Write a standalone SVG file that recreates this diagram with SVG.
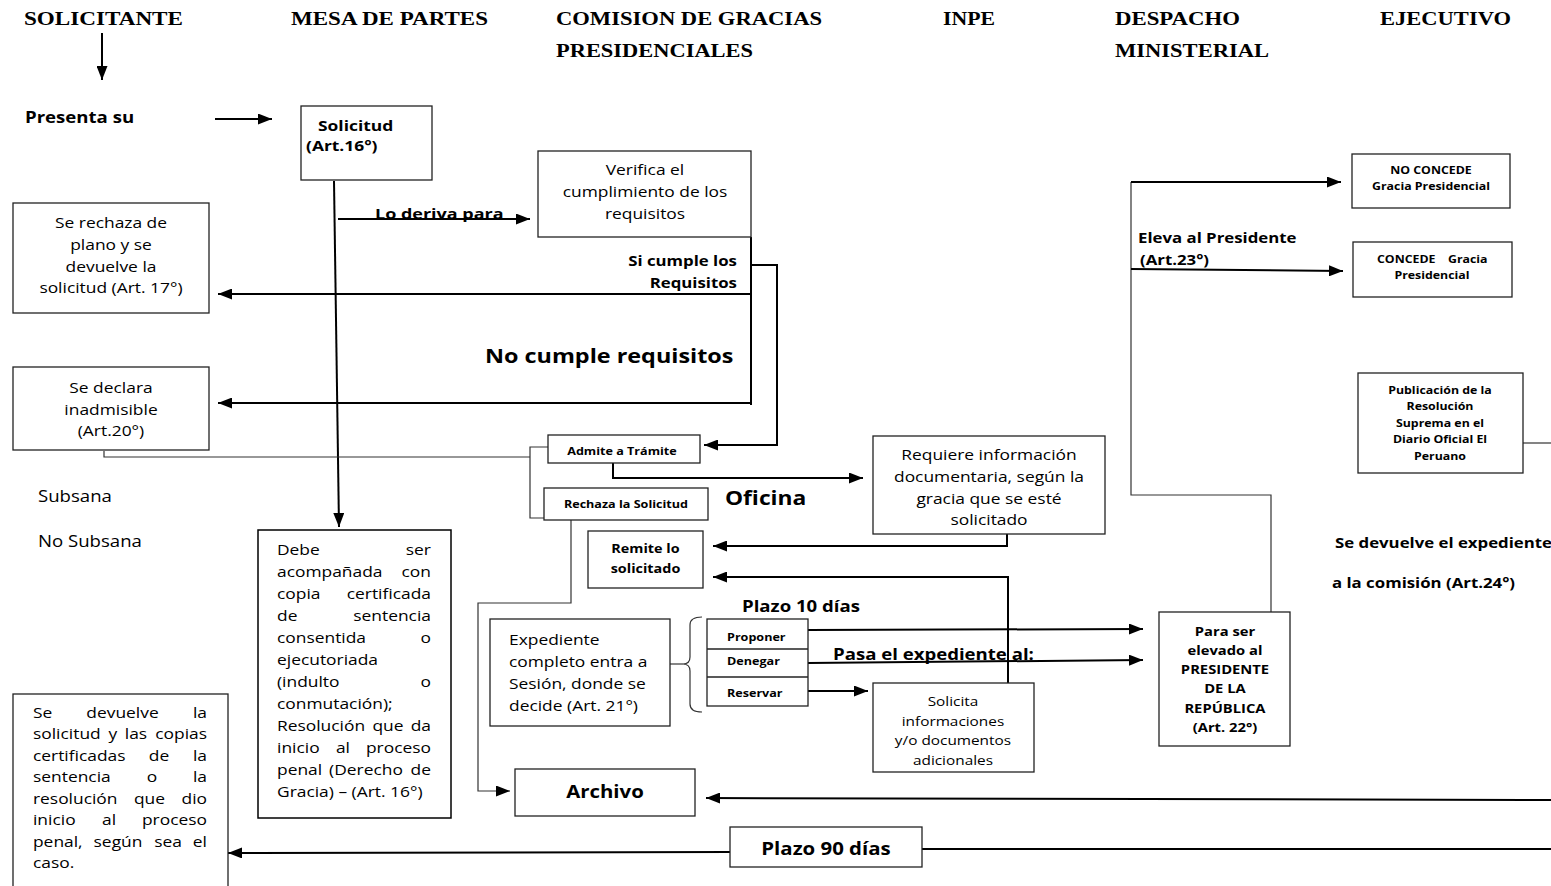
<svg xmlns="http://www.w3.org/2000/svg" width="1551" height="886" viewBox="0 0 1551 886">
<style>
.box{fill:#fff;stroke:#222;stroke-width:1.3}
.hd{font-family:"Liberation Serif","Times New Roman",serif;font-weight:bold;font-size:19px;fill:#000}
.t{font-family:"Open Sans","Liberation Sans",sans-serif;fill:#000;transform-box:fill-box;transform:scaleX(1.2)}
.b{font-weight:bold}
.s{transform-origin:left center}
.m{text-anchor:middle;transform-origin:center}
.e{text-anchor:end;transform-origin:right center}
.f145{font-size:14.5px}
.ln{fill:none;stroke:#000;stroke-width:2}
.thin{fill:none;stroke:#333;stroke-width:1.2}
</style>
<defs>
<marker id="ah" markerUnits="userSpaceOnUse" markerWidth="14" markerHeight="11" refX="14" refY="5.5" orient="auto">
<path d="M0,0 L14,5.5 L0,11 z" fill="#000"/>
</marker>
</defs>
<rect width="1551" height="886" fill="#fff"/>

<g id="headers">
<text class="hd" x="24" y="25" textLength="159" lengthAdjust="spacingAndGlyphs">SOLICITANTE</text>
<text class="hd" x="291" y="25" textLength="197" lengthAdjust="spacingAndGlyphs">MESA DE PARTES</text>
<text class="hd" x="556" y="25" textLength="266" lengthAdjust="spacingAndGlyphs">COMISION DE GRACIAS</text>
<text class="hd" x="556" y="57" textLength="197" lengthAdjust="spacingAndGlyphs">PRESIDENCIALES</text>
<text class="hd" x="943" y="25" textLength="52" lengthAdjust="spacingAndGlyphs">INPE</text>
<text class="hd" x="1115" y="25" textLength="125" lengthAdjust="spacingAndGlyphs">DESPACHO</text>
<text class="hd" x="1115" y="57" textLength="154" lengthAdjust="spacingAndGlyphs">MINISTERIAL</text>
<text class="hd" x="1380" y="25" textLength="131" lengthAdjust="spacingAndGlyphs">EJECUTIVO</text>
</g>

<g id="connectors">
<line class="ln" x1="102" y1="33" x2="102" y2="80" marker-end="url(#ah)"/>
<line class="ln" x1="215" y1="119" x2="272" y2="119" marker-end="url(#ah)"/>
<line class="ln" x1="334" y1="181" x2="339" y2="527" stroke-width="2.4" marker-end="url(#ah)"/>
<line class="ln" x1="338" y1="219" x2="530" y2="219" marker-end="url(#ah)"/>
<line class="ln" x1="751" y1="237" x2="751" y2="405" stroke-width="1.5"/>
<line class="ln" x1="751" y1="294" x2="218" y2="294" marker-end="url(#ah)"/>
<line class="ln" x1="751" y1="403" x2="218" y2="403" marker-end="url(#ah)"/>
<path class="ln" d="M751,265 H777 V445 H704" stroke-width="1.6" marker-end="url(#ah)"/>
<path class="thin" d="M104,451 V457 H530"/>
<path class="thin" d="M548,447 H530 V518 H546"/>
<path class="ln" d="M613,463 V478 H863" marker-end="url(#ah)"/>
<path class="thin" d="M571,520 V603 H478 V791 H510" stroke-width="1.5" marker-end="url(#ah)"/>
<path class="ln" d="M1007,534 V546 H713" marker-end="url(#ah)"/>
<path class="ln" d="M1008,683 V577 H713" stroke-width="1.6" marker-end="url(#ah)"/>
<line class="thin" x1="670" y1="664" x2="683" y2="664"/>
<path class="thin" d="M702,617 Q690,617 690,625 L690,657 Q690,664 683,664 Q690,664 690,671 L690,704 Q690,712 702,712"/>
<line class="ln" x1="808" y1="630" x2="1143" y2="629" marker-end="url(#ah)"/>
<line class="ln" x1="808" y1="663" x2="1143" y2="660" marker-end="url(#ah)"/>
<line class="ln" x1="808" y1="691" x2="868" y2="691" marker-end="url(#ah)"/>
<path class="thin" d="M1271,612 V495 H1131 V182"/>
<line class="ln" x1="1131" y1="182" x2="1341" y2="182" marker-end="url(#ah)"/>
<line class="ln" x1="1131" y1="269" x2="1343" y2="271" marker-end="url(#ah)"/>
<line class="thin" x1="1523" y1="443" x2="1551" y2="443"/>
<line class="ln" x1="1551" y1="800" x2="706" y2="798" marker-end="url(#ah)"/>
<line class="ln" x1="1551" y1="849" x2="922" y2="849"/>
<line class="ln" x1="730" y1="852" x2="228" y2="853" marker-end="url(#ah)"/>
</g>

<g id="presenta">
<text class="t b s" x="25" y="123" font-size="15.5">Presenta su</text>
</g>

<g id="solicitud">
<rect class="box" x="301" y="106" width="131" height="74"/>
<text class="t b s" x="318" y="131" font-size="14.5">Solicitud</text>
<text class="t b s" x="306" y="151" font-size="14.5">(Art.16°)</text>
</g>

<g id="lo-deriva">
<text class="t b s" x="375" y="219" font-size="15">Lo deriva para</text>
</g>

<g id="verifica">
<rect class="box" x="538" y="151" width="213" height="86"/>
<text class="t m f145" x="645" y="175">Verifica el</text>
<text class="t m f145" x="645" y="197">cumplimiento de los</text>
<text class="t m f145" x="645" y="219">requisitos</text>
</g>

<g id="si-cumple">
<text class="t b e" x="737" y="266" font-size="14">Si cumple los</text>
<text class="t b e" x="737" y="288" font-size="14">Requisitos</text>
</g>

<g id="no-cumple">
<text class="t b s" x="485" y="363" font-size="19.5">No cumple requisitos</text>
</g>

<g id="rechaza-plano">
<rect class="box" x="13" y="203" width="196" height="110"/>
<text class="t m f145" x="111" y="228">Se rechaza de</text>
<text class="t m f145" x="111" y="250">plano y se</text>
<text class="t m f145" x="111" y="272">devuelve la</text>
<text class="t m f145" x="111" y="293">solicitud (Art. 17°)</text>
</g>

<g id="inadmisible">
<rect class="box" x="13" y="367" width="196" height="83"/>
<text class="t m f145" x="111" y="393">Se declara</text>
<text class="t m f145" x="111" y="415">inadmisible</text>
<text class="t m f145" x="111" y="436">(Art.20°)</text>
</g>

<g id="subsana">
<text class="t s" x="38" y="502" font-size="15.5">Subsana</text>
<text class="t s" x="38" y="547" font-size="15.5">No Subsana</text>
</g>

<g id="admite">
<rect class="box" x="548" y="435" width="152" height="28"/>
<text class="t b m" x="622" y="455" font-size="10.5">Admite a Trámite</text>
</g>

<g id="rechaza-solicitud">
<rect class="box" x="544" y="488" width="164" height="32"/>
<text class="t b m" x="626" y="508" font-size="10.5">Rechaza la Solicitud</text>
</g>

<g id="oficina">
<text class="t b s" x="725" y="505" font-size="19">Oficina</text>
</g>

<g id="requiere">
<rect class="box" x="873" y="436" width="232" height="98"/>
<text class="t m f145" x="989" y="460">Requiere información</text>
<text class="t m f145" x="989" y="482">documentaria, según la</text>
<text class="t m f145" x="989" y="504">gracia que se esté</text>
<text class="t m f145" x="989" y="525">solicitado</text>
</g>

<g id="remite">
<rect class="box" x="588" y="531" width="115" height="57"/>
<text class="t b m" x="645.5" y="553" font-size="12">Remite lo</text>
<text class="t b m" x="645.5" y="573" font-size="12">solicitado</text>
</g>

<g id="debe-ser">
<rect class="box" x="258" y="530" width="193" height="288" style="stroke:#000;stroke-width:1.5"/>
<g class="f145">
<text class="t s" x="277" y="555">Debe</text><text class="t e" x="431" y="555">ser</text>
<text class="t s" x="277" y="577">acompañada</text><text class="t e" x="431" y="577">con</text>
<text class="t s" x="277" y="599">copia</text><text class="t e" x="431" y="599">certificada</text>
<text class="t s" x="277" y="621">de</text><text class="t e" x="431" y="621">sentencia</text>
<text class="t s" x="277" y="643">consentida</text><text class="t e" x="431" y="643">o</text>
<text class="t s" x="277" y="665">ejecutoriada</text>
<text class="t s" x="277" y="687">(indulto</text><text class="t e" x="431" y="687">o</text>
<text class="t s" x="277" y="709">conmutación);</text>
<text class="t s" x="277" y="731">Resolución</text><text class="t m" x="388" y="731">que</text><text class="t e" x="431" y="731">da</text>
<text class="t s" x="277" y="753">inicio</text><text class="t m" x="343" y="753">al</text><text class="t e" x="431" y="753">proceso</text>
<text class="t s" x="277" y="775">penal</text><text class="t m" x="366" y="775">(Derecho</text><text class="t e" x="431" y="775">de</text>
<text class="t s" x="277" y="797">Gracia) – (Art. 16°)</text>
</g>
</g>

<g id="se-devuelve-solicitud">
<rect class="box" x="13" y="694" width="215" height="200"/>
<g class="f145">
<text class="t s" x="33" y="718">Se</text><text class="t m" x="122.5" y="718">devuelve</text><text class="t e" x="207" y="718">la</text>
<text class="t s" x="33" y="739">solicitud</text><text class="t m" x="113" y="739">y</text><text class="t m" x="136" y="739">las</text><text class="t e" x="207" y="739">copias</text>
<text class="t s" x="33" y="761">certificadas</text><text class="t m" x="159" y="761">de</text><text class="t e" x="207" y="761">la</text>
<text class="t s" x="33" y="782">sentencia</text><text class="t m" x="152" y="782">o</text><text class="t e" x="207" y="782">la</text>
<text class="t s" x="33" y="804">resolución</text><text class="t m" x="149.5" y="804">que</text><text class="t e" x="207" y="804">dio</text>
<text class="t s" x="33" y="825">inicio</text><text class="t m" x="109" y="825">al</text><text class="t e" x="207" y="825">proceso</text>
<text class="t s" x="33" y="847">penal,</text><text class="t m" x="118" y="847">según</text><text class="t m" x="168" y="847">sea</text><text class="t e" x="207" y="847">el</text>
<text class="t s" x="33" y="868">caso.</text>
</g>
</g>

<g id="expediente">
<rect class="box" x="490" y="619" width="180" height="107"/>
<text class="t s f145" x="509" y="645">Expediente</text>
<text class="t s f145" x="509" y="667">completo entra a</text>
<text class="t s f145" x="509" y="689">Sesión, donde se</text>
<text class="t s f145" x="509" y="711">decide (Art. 21°)</text>
</g>

<g id="plazo-10">
<text class="t b s" x="742" y="612" font-size="15.5">Plazo 10 días</text>
</g>

<g id="opciones">
<rect class="box" x="707" y="619" width="101" height="87"/>
<line x1="707" y1="649" x2="808" y2="649" stroke="#222" stroke-width="1.3"/>
<line x1="707" y1="677" x2="808" y2="677" stroke="#222" stroke-width="1.3"/>
<text class="t b s" x="727" y="641" font-size="10.5">Proponer</text>
<text class="t b s" x="727" y="665" font-size="10.5">Denegar</text>
<text class="t b s" x="727" y="697" font-size="10.5">Reservar</text>
</g>

<g id="pasa-expediente">
<text class="t b s" x="833" y="660" font-size="15.5">Pasa el expediente al:</text>
</g>

<g id="solicita">
<rect class="box" x="873" y="683" width="161" height="89"/>
<text class="t m" x="953" y="706" font-size="12.8">Solicita</text>
<text class="t m" x="953" y="726" font-size="12.8">informaciones</text>
<text class="t m" x="953" y="745" font-size="12.8">y/o documentos</text>
<text class="t m" x="953" y="765" font-size="12.8">adicionales</text>
</g>

<g id="archivo">
<rect class="box" x="515" y="769" width="180" height="47"/>
<text class="t b m" x="605" y="798" font-size="17">Archivo</text>
</g>

<g id="plazo-90">
<rect class="box" x="730" y="827" width="192" height="40"/>
<text class="t b m" x="826" y="855" font-size="17">Plazo 90 días</text>
</g>

<g id="para-ser">
<rect class="box" x="1159" y="612" width="131" height="134"/>
<text class="t b m" x="1225" y="636" font-size="12.3">Para ser</text>
<text class="t b m" x="1225" y="655" font-size="12.3">elevado al</text>
<text class="t b m" x="1225" y="674" font-size="12.3">PRESIDENTE</text>
<text class="t b m" x="1225" y="693" font-size="12.3">DE LA</text>
<text class="t b m" x="1225" y="713" font-size="12.3">REPÚBLICA</text>
<text class="t b m" x="1225" y="732" font-size="12.3">(Art. 22°)</text>
</g>

<g id="eleva">
<text class="t b s" x="1138" y="243" font-size="14">Eleva al Presidente</text>
<text class="t b s" x="1140" y="265" font-size="14">(Art.23°)</text>
</g>

<g id="no-concede">
<rect class="box" x="1352" y="154" width="158" height="54"/>
<text class="t b m" x="1431" y="174" font-size="10.3">NO CONCEDE</text>
<text class="t b m" x="1431" y="190" font-size="10.3">Gracia Presidencial</text>
</g>

<g id="concede">
<rect class="box" x="1353" y="242" width="159" height="55"/>
<text class="t b s" x="1377" y="263" font-size="10.3">CONCEDE</text>
<text class="t b s" x="1448" y="263" font-size="10.3">Gracia</text>
<text class="t b m" x="1432" y="279" font-size="10.3">Presidencial</text>
</g>

<g id="publicacion">
<rect class="box" x="1358" y="373" width="165" height="100"/>
<text class="t b m" x="1440" y="394" font-size="10.3">Publicación de la</text>
<text class="t b m" x="1440" y="410" font-size="10.3">Resolución</text>
<text class="t b m" x="1440" y="427" font-size="10.3">Suprema en el</text>
<text class="t b m" x="1440" y="443" font-size="10.3">Diario Oficial El</text>
<text class="t b m" x="1440" y="460" font-size="10.3">Peruano</text>
</g>

<g id="devuelve-comision">
<text class="t b s" x="1335" y="548" font-size="14">Se devuelve el expediente</text>
<text class="t b s" x="1332" y="588" font-size="14">a la comisión (Art.24°)</text>
</g>
</svg>
